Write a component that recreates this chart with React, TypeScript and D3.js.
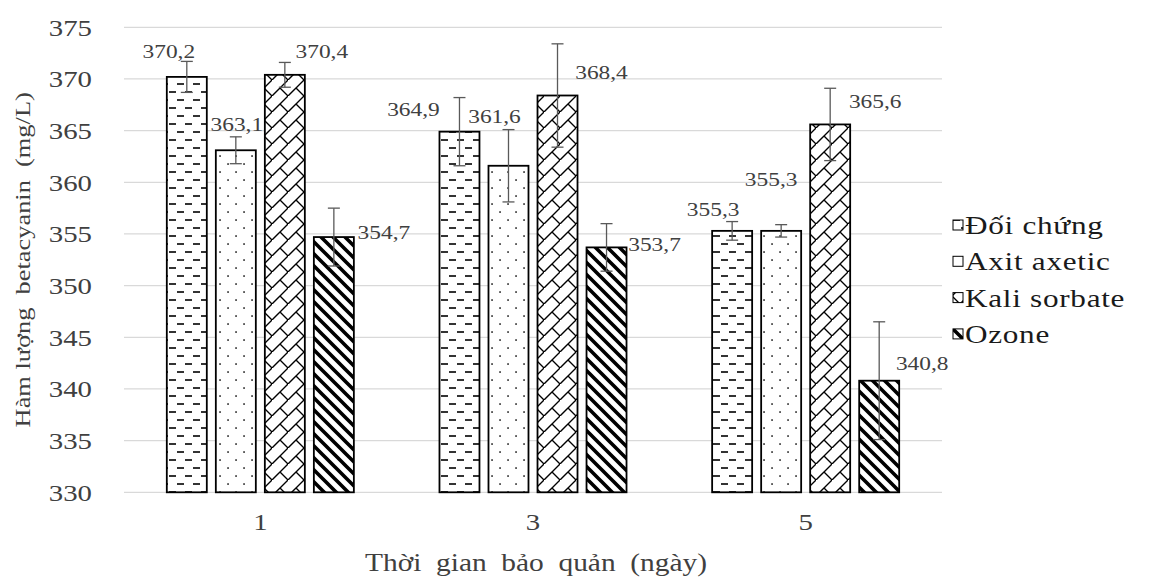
import React from 'react';
import * as d3 from 'd3';

// ---- data ----
const days = ['1', '3', '5'];
const treatments = ['Đối chứng', 'Axit axetic', 'Kali sorbate', 'Ozone'];
const doiChung = [370.2, 364.9, 355.3];
const axitAxetic = [363.1, 361.6, 355.3];
const kaliSorbate = [370.4, 368.4, 365.6];
const ozone = [354.7, 353.7, 340.8];
const errDoiChung = [1.5, 3.3, 0.9];
const errAxitAxetic = [1.3, 3.5, 0.6];
const errKaliSorbate = [1.2, 5.0, 3.5];
const errOzone = [2.8, 2.3, 5.7];
const yTicks = [330, 335, 340, 345, 350, 355, 360, 365, 370, 375];
const xTitle = 'Thời  gian  bảo  quản  (ngày)';
const yTitle = 'Hàm lượng  betacyanin  (mg/L)';

// label placement offsets (dx from bar centre, dy from bar top) — layout only
const labelOffsets = [
  [[-18, -19], [-46, -16], [-19, -15]],
  [[1, -19], [-14, -43], [-10, -45]],
  [[37, -17], [44, -17], [45, -16]],
  [[50, 2], [48, 3.5], [43, -11]],
];

const seriesValues = [doiChung, axitAxetic, kaliSorbate, ozone];
const seriesErrors = [errDoiChung, errAxitAxetic, errKaliSorbate, errOzone];
const patternIds = ['pDC', 'pAA', 'pKS', 'pOZ'];

const W = 1174;
const H = 584;
const plot = { left: 124, right: 942, top: 27.3, bottom: 492.3 };
const FONT = 'Liberation Serif, Times New Roman, serif';
const SX = 1.2;

const fmt = (v: number) => v.toFixed(1).replace('.', ',');

function Txt({ x, y, size, anchor = 'middle', rotate = 0, fill = '#404040', spacing = 0, children }: any) {
  return (
    <text
      transform={`translate(${x},${y})${rotate ? ` rotate(${rotate})` : ''} scale(${SX},1)`}
      textAnchor={anchor}
      fill={fill}
      style={{ whiteSpace: 'pre', fontFamily: FONT, fontSize: size, letterSpacing: spacing }}
    >
      {children}
    </text>
  );
}

export default function App() {
  const x0 = d3.scaleBand<string>().domain(days).range([plot.left, plot.right]).paddingInner(0.314).paddingOuter(0.157);
  const x1 = d3.scaleBand<string>().domain(treatments).range([0, x0.bandwidth()]).paddingInner(0.184).paddingOuter(0);
  const y = d3.scaleLinear().domain([330, 375]).range([plot.bottom, plot.top]);

  return (
    <svg width={W} height={H} style={{ position: 'absolute', left: 0, top: 0, display: 'block', background: '#fff' }}>
      <defs>
        <pattern id="pDC" patternUnits="userSpaceOnUse" width={16} height={16}>
          <rect width={16} height={16} fill="#fff" />
          <line x1={1} y1={4} x2={8} y2={4} stroke="#000" strokeWidth={1.6} />
          <line x1={9} y1={12} x2={16} y2={12} stroke="#000" strokeWidth={1.6} />
        </pattern>
        <pattern id="pAA" patternUnits="userSpaceOnUse" width={16} height={16}>
          <rect width={16} height={16} fill="#fff" />
          <rect x={3.3} y={3.3} width={1.5} height={1.5} fill="#000" />
          <rect x={11.3} y={11.3} width={1.5} height={1.5} fill="#000" />
        </pattern>
        <pattern id="pKS" patternUnits="userSpaceOnUse" width={16} height={16}>
          <rect width={16} height={16} fill="#fff" />
          <path d="M-2,18 L18,-2 M8,8 L16,16" stroke="#000" strokeWidth={1.4} fill="none" />
        </pattern>
        <pattern id="pOZ" patternUnits="userSpaceOnUse" width={12} height={12}>
          <rect width={12} height={12} fill="#fff" />
          <path d="M-3,-3 L15,15 M-3,9 L3,15 M9,-3 L15,3" stroke="#000" strokeWidth={3.6} fill="none" />
        </pattern>
      </defs>

      {/* gridlines */}
      {yTicks.map((t) => (
        <line key={t} x1={plot.left} x2={plot.right} y1={y(t)} y2={y(t)} stroke="#d9d9d9" strokeWidth={1.3} />
      ))}

      {/* y tick labels */}
      {yTicks.map((t) => (
        <Txt key={'yl' + t} x={92} y={y(t) + 8.3} size={24} anchor="end">
          {String(t)}
        </Txt>
      ))}

      {/* bars */}
      {seriesValues.map((vals, si) =>
        days.map((d, di) => {
          const bx = (x0(d) as number) + (x1(treatments[si]) as number);
          const bw = x1.bandwidth();
          const top = y(vals[di]);
          return (
            <rect
              key={`b${si}-${di}`}
              x={bx}
              y={top}
              width={bw}
              height={y(330) - top}
              fill={`url(#${patternIds[si]})`}
              stroke="#000"
              strokeWidth={1.8}
            />
          );
        })
      )}

      {/* error bars */}
      {seriesValues.map((vals, si) =>
        days.map((d, di) => {
          const cx = (x0(d) as number) + (x1(treatments[si]) as number) + x1.bandwidth() / 2;
          const hi = y(vals[di] + seriesErrors[si][di]);
          const lo = y(vals[di] - seriesErrors[si][di]);
          return (
            <g key={`e${si}-${di}`} stroke="#595959" strokeWidth={1.3}>
              <line x1={cx} x2={cx} y1={hi} y2={lo} />
              <line x1={cx - 6} x2={cx + 6} y1={hi} y2={hi} />
              <line x1={cx - 6} x2={cx + 6} y1={lo} y2={lo} />
            </g>
          );
        })
      )}

      {/* data labels */}
      {seriesValues.map((vals, si) =>
        days.map((d, di) => {
          const cx = (x0(d) as number) + (x1(treatments[si]) as number) + x1.bandwidth() / 2;
          const [dx, dy] = labelOffsets[si][di];
          return (
            <Txt key={`l${si}-${di}`} x={cx + dx} y={y(vals[di]) + dy} size={19.5}>
              {fmt(vals[di])}
            </Txt>
          );
        })
      )}

      {/* x tick labels */}
      {days.map((d) => (
        <Txt key={'xl' + d} x={(x0(d) as number) + x0.bandwidth() / 2} y={530} size={24}>
          {d}
        </Txt>
      ))}

      {/* axis titles */}
      <Txt x={536} y={571} size={24.5}>
        {xTitle}
      </Txt>
      <Txt x={30} y={(plot.top + plot.bottom) / 2} size={22} rotate={-90}>
        {yTitle}
      </Txt>

      {/* legend */}
      {treatments.map((t, i) => {
        const ly = 225 + i * 36.3;
        return (
          <g key={'lg' + t}>
            <rect x={953} y={ly - 5} width={10} height={10} fill={`url(#${patternIds[i]})`} stroke="#000" strokeWidth={1} />
            <Txt x={965} y={ly + 9} size={26} anchor="start" fill="#1a1a1a" spacing={0.6}>
              {t}
            </Txt>
          </g>
        );
      })}
    </svg>
  );
}
